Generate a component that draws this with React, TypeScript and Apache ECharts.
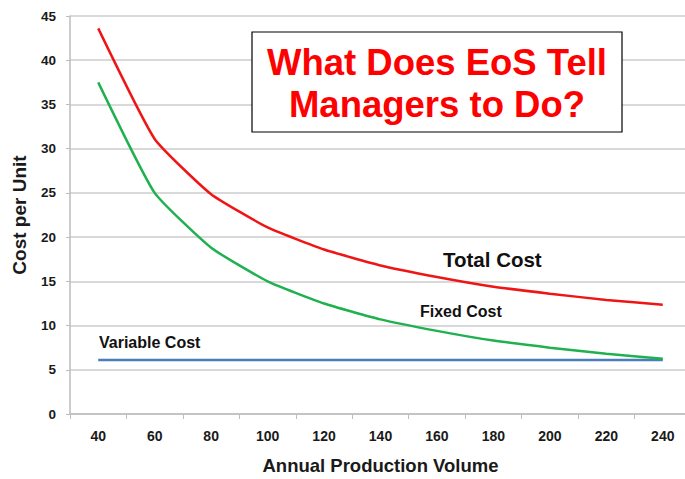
import React, { useEffect, useRef } from "react";
import * as echarts from "echarts";

const categories = ["40", "60", "80", "100", "120", "140", "160", "180", "200", "220", "240"];
const totalCost = [43.6, 31.1, 24.85, 21.1, 18.6, 16.8, 15.5, 14.4, 13.6, 12.9, 12.35];
const fixedCost = [37.5, 25.0, 18.8, 15.0, 12.5, 10.7, 9.4, 8.3, 7.5, 6.8, 6.25];
const variableCost = [6.1, 6.1, 6.1, 6.1, 6.1, 6.1, 6.1, 6.1, 6.1, 6.1, 6.1];

const FONT = "'Liberation Sans', Arial, sans-serif";

export default function App() {
  const ref = useRef<HTMLDivElement>(null);
  useEffect(() => {
    if (!ref.current) return;
    const chart = echarts.init(ref.current, null, { renderer: "svg" });
    chart.setOption({
      animation: false,
      backgroundColor: "#ffffff",
      grid: { left: 70, top: 16, width: 621, height: 398, outerBoundsMode: "none", containLabel: false },
      xAxis: {
        type: "category",
        data: categories,
        boundaryGap: true,
        name: "Annual Production Volume",
        nameLocation: "middle",
        nameGap: 42,
        nameTextStyle: { fontFamily: FONT, fontWeight: "bold", fontSize: 18.5, color: "#1a1a1a" },
        axisLine: { lineStyle: { color: "#bdbdbd", width: 1.5 } },
        axisTick: { show: true, length: 5, lineStyle: { color: "#bdbdbd" } },
        axisLabel: { margin: 15, fontFamily: FONT, fontWeight: "bold", fontSize: 14, color: "#1a1a1a" },
        splitLine: { show: false },
      },
      yAxis: {
        type: "value",
        min: 0,
        max: 45,
        interval: 5,
        name: "Cost per Unit",
        nameLocation: "middle",
        nameGap: 41,
        nameTextStyle: { fontFamily: FONT, fontWeight: "bold", fontSize: 19, color: "#1a1a1a" },
        axisLine: { show: true, lineStyle: { color: "#bdbdbd", width: 1.5 } },
        axisTick: { show: true, length: 4, lineStyle: { color: "#bdbdbd" } },
        axisLabel: { margin: 14, fontFamily: FONT, fontWeight: "bold", fontSize: 13.5, color: "#1a1a1a" },
        splitLine: { show: true, lineStyle: { color: "#cccccc", width: 1.5 } },
      },
      series: [
        {
          name: "Variable Cost",
          type: "line",
          data: variableCost,
          symbol: "none",
          lineStyle: { color: "#4a7ebb", width: 2.5 },
          z: 2,
        },
        {
          name: "Fixed Cost",
          type: "line",
          data: fixedCost,
          symbol: "none",
          smooth: 0.15,
          lineStyle: { color: "#1fb14f", width: 2.5 },
          z: 3,
        },
        {
          name: "Total Cost",
          type: "line",
          data: totalCost,
          symbol: "none",
          smooth: 0.15,
          lineStyle: { color: "#f01515", width: 2.5 },
          z: 4,
        },
      ],
      graphic: [
        {
          type: "rect",
          shape: { x: 252, y: 32, width: 370, height: 100 },
          style: { fill: "#ffffff", stroke: "#000000", lineWidth: 1.2 },
          z: 10,
        },
        {
          type: "text",
          x: 437,
          y: 62,
          style: {
            text: "What Does EoS Tell",
            fill: "#ff0000",
            font: `bold 36.5px ${FONT}`,
            align: "center",
            verticalAlign: "middle",
          },
          z: 11,
        },
        {
          type: "text",
          x: 437,
          y: 104,
          style: {
            text: "Managers to Do?",
            fill: "#ff0000",
            font: `bold 36.5px ${FONT}`,
            align: "center",
            verticalAlign: "middle",
          },
          z: 11,
        },
        {
          type: "text",
          x: 443,
          y: 259,
          style: { text: "Total Cost", fill: "#111", font: `bold 20.5px ${FONT}`, align: "left", verticalAlign: "middle" },
          z: 11,
        },
        {
          type: "text",
          x: 420,
          y: 311,
          style: { text: "Fixed Cost", fill: "#111", font: `bold 16px ${FONT}`, align: "left", verticalAlign: "middle" },
          z: 11,
        },
        {
          type: "text",
          x: 99,
          y: 342,
          style: { text: "Variable Cost", fill: "#111", font: `bold 16px ${FONT}`, align: "left", verticalAlign: "middle" },
          z: 11,
        },
      ],
    });
    return () => chart.dispose();
  }, []);
  return (
    <div
      ref={ref}
      style={{ position: "fixed", left: 0, top: 0, width: 685, height: 479, overflow: "hidden" }}
    />
  );
}
